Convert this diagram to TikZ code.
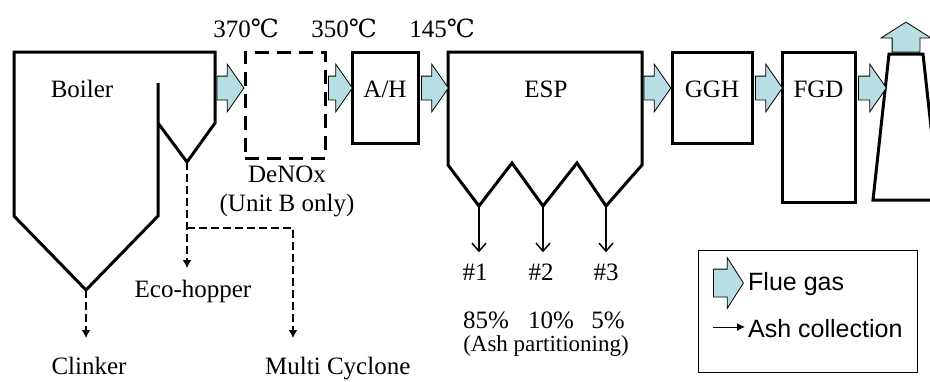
\documentclass[tikz,border=0pt]{standalone}
\usepackage{fontspec}
\setmainfont{Liberation Serif}
\setsansfont{Liberation Sans}
\newfontfamily\degfont{DejaVu Serif}
\usetikzlibrary{shapes,arrows,arrows.meta,positioning,calc}

\definecolor{fluecyan}{RGB}{183,222,226}

\begin{document}
\begin{tikzpicture}[x=1pt, y=-1pt,
        every node/.style={inner sep=0pt, font=\fontsize{25}{29}\selectfont},
        wall/.style={draw=black, line width=3pt, line join=miter},
        unit/.style={rectangle, draw=black, line width=3pt},
        flue/.style={single arrow, draw=black, line width=0.8pt, fill=fluecyan, inner xsep=0pt, inner ysep=11.5pt, single arrow head extend=12pt, single arrow tip angle=110, minimum height=27pt, anchor=tail, xshift=1.5pt},
        ash/.style={line width=1.5pt, -{Straight Barb[length=8pt, width=14pt, line width=1.5pt]}},
        dust/.style={line width=2.5pt, dash pattern=on 8pt off 4pt, -{Latex[length=8pt, width=9pt]}},
        lbl/.style={anchor=base},
        keytext/.style={anchor=base west, font=\sffamily\fontsize{25}{29}\selectfont}
    ]
    \useasboundingbox (0,0) rectangle (930,381);

    % Reference lines
    \coordinate (flow) at (0,88);
    \coordinate (txt) at (0,97);

    % Boiler with eco-hopper
    \draw[wall] (158,83) -- (158,216) -- (86,290) -- (14,216) -- (14,52) -- (215,52) -- (215,123) -- (187,162) -- (158,123);
    \coordinate (boilhop) at (86,290);
    \coordinate (ecohop) at (187,162);
    \coordinate (boilout) at (215,88);
    \node[lbl] (boilertxt) at (82,97) {Boiler};

    % Units
    \node[unit, dash pattern=on 14pt off 8pt, minimum width=80pt, minimum height=106pt] (denox) at (285,105) {};
    \node[unit, minimum width=66pt, minimum height=91pt] (ah) at (385,97.5) {};
    \node[unit, minimum width=80pt, minimum height=91pt] (ggh) at (712,97.5) {};
    \node[unit, minimum width=73pt, minimum height=150pt] (fgd) at (818.5,127) {};

    % ESP with three hoppers
    \draw[wall] (448,165) -- (448,52) -- (642,52) -- (642,165) -- (606,206) -- (577,163) -- (543,206) -- (512,163) -- (479,206) -- cycle;
    \coordinate (hop1) at (479,206);
    \coordinate (hop2) at (543,206);
    \coordinate (hop3) at (606,206);
    \coordinate (espout) at (642,88);
    \node[lbl] (esptxt) at (546,97) {ESP};

    % Stack
    \draw[wall] (873,200) -- (889,54) -- (923,54) -- (939,200) -- cycle;
    \coordinate (stacktop) at (906,54);

    % Unit labels
    \node[lbl] (ahtxt) at (ah |- txt) {A/H};
    \node[lbl] (gghtxt) at (ggh |- txt) {GGH};
    \node[lbl] (fgdtxt) at (fgd |- txt) {FGD};
    \node[lbl] (denoxtxt) at (287,182) {DeNOx};
    \node[lbl] (unitb) at (287,211) {(Unit B only)};

    % Temperatures
    \node[lbl] (t1) at (246,37) {370{\degfont ℃}};
    \node[lbl] (t2) at (344,37) {350{\degfont ℃}};
    \node[lbl] (t3) at (442,37) {145{\degfont ℃}};

    % Flue gas
    \node[flue] (g1) at (boilout) {};
    \node[flue, minimum height=24pt] (g2) at (denox.east |- flow) {};
    \node[flue] (g3) at (ah.east |- flow) {};
    \node[flue] (g4) at (espout) {};
    \node[flue] (g5) at (ggh.east |- flow) {};
    \node[flue, minimum height=28pt] (g6) at (fgd.east |- flow) {};
    \node[flue, shape border rotate=90, inner xsep=13.5pt, inner ysep=0pt, single arrow head extend=11pt, single arrow tip angle=115, minimum height=30pt, xshift=-1.5pt, yshift=1.5pt] (g7) at (stacktop) {};

    % Ash from boiler and eco-hopper
    \coordinate (clinkend) at (86,338);
    \coordinate (ecoend) at (187,268);
    \coordinate (branch) at (187,228);
    \coordinate (mcend) at (293,338);
    \draw[dust] (boilhop) -- (clinkend);
    \draw[dust] (ecohop) -- (ecoend);
    \draw[dust] (branch) -| (mcend);
    \node[lbl] (clinker) at (89,374) {Clinker};
    \node[lbl] (eco) at (193,297) {Eco-hopper};
    \node[anchor=base west] (multi) at (265,374) {Multi Cyclone};

    % Ash from ESP
    \node[lbl] (ash1) at (475,280) {\#1};
    \node[lbl] (ash2) at (541,280) {\#2};
    \node[lbl] (ash3) at (606,280) {\#3};
    \draw[ash, shorten >=11pt] (hop1) -- (hop1 |- ash1.north);
    \draw[ash, shorten >=11pt] (hop2) -- (hop2 |- ash2.north);
    \draw[ash, shorten >=11pt] (hop3) -- (hop3 |- ash3.north);
    \node[lbl] (pc1) at (486,328) {85\%};
    \node[lbl] (pc2) at (551,328) {10\%};
    \node[lbl] (pc3) at (608,328) {5\%};
    \node[lbl, font=\fontsize{23}{27}\selectfont] (part) at (546,351) {(Ash partitioning)};

    % Legend
    \node[draw, line width=1pt, minimum width=219pt, minimum height=122pt] (legend) at (807.5,311) {};
    \node[flue, inner ysep=13.5pt, single arrow head extend=11.5pt, single arrow tip angle=115, minimum height=30pt] (keyflue) at (711.5,283) {};
    \node[keytext] (keyfluetxt) at (748,290) {Flue gas};
    \coordinate (keyash) at (713,327);
    \coordinate (keyashend) at (745,327);
    \draw[line width=1pt, -{Latex[length=8pt, width=8pt]}] (keyash) -- (keyashend);
    \node[keytext] (keyashtxt) at (748,337) {Ash collection};

\end{tikzpicture}
\end{document}
